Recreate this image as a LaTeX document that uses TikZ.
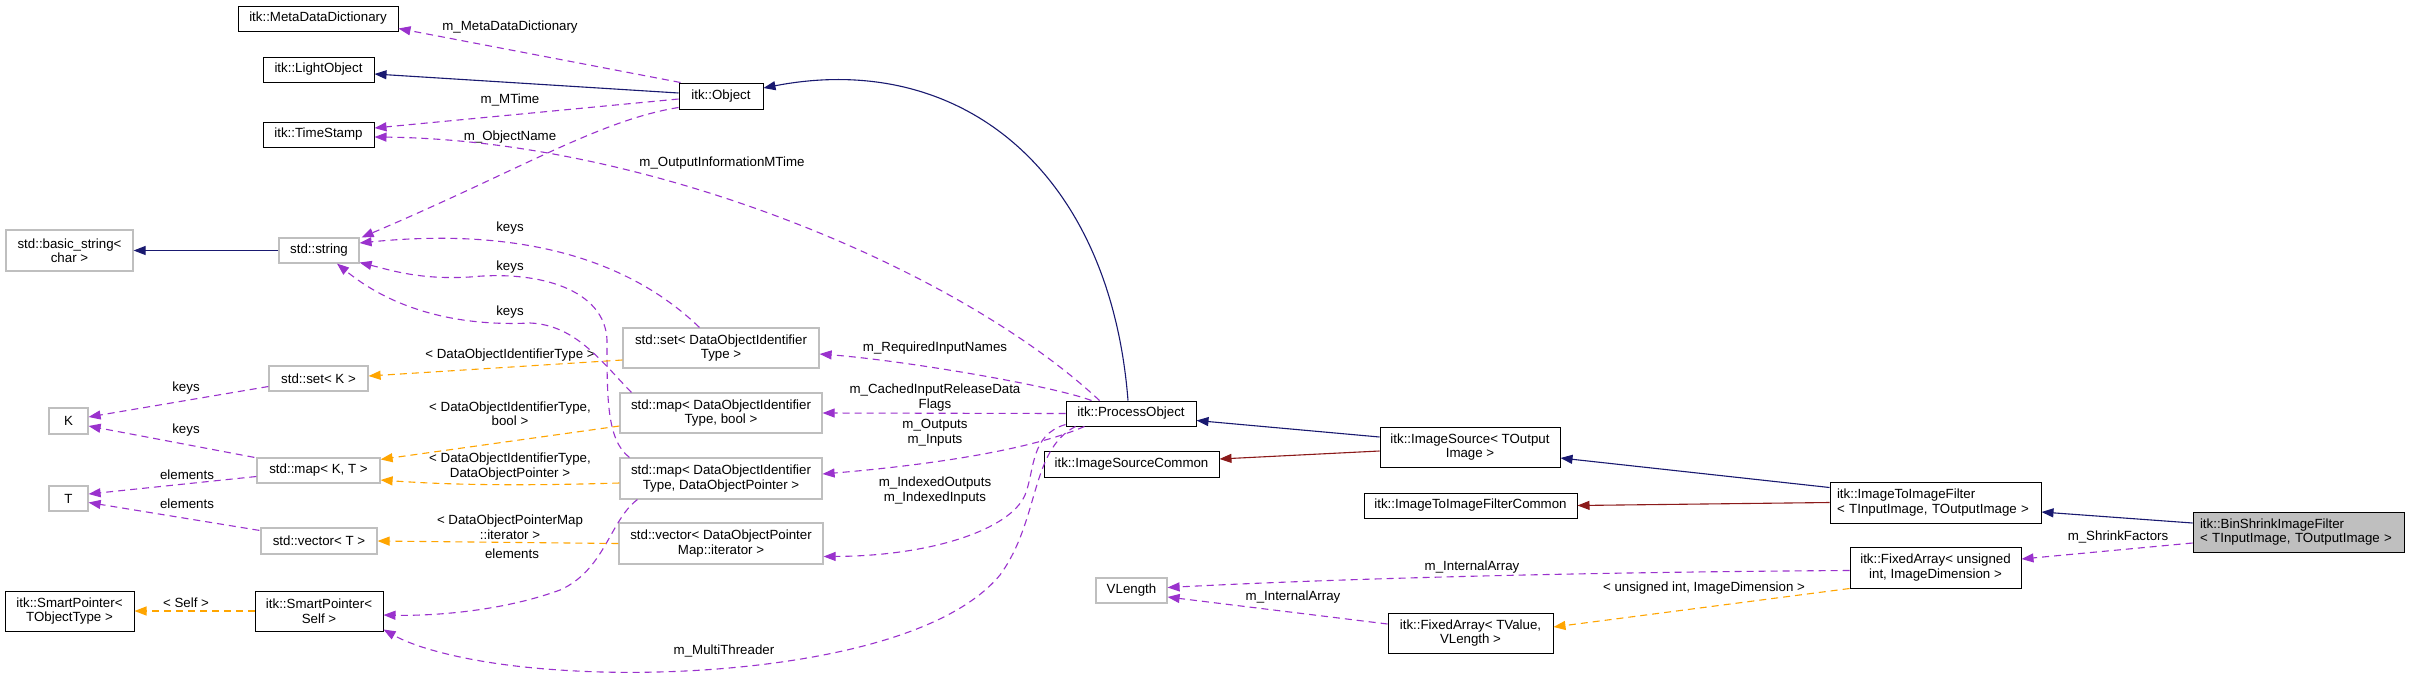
\documentclass[tikz,border=0pt]{standalone}
\usepackage{fontspec}
\setmainfont{Liberation Sans}
\usetikzlibrary{arrows.meta,calc}
\definecolor{navyc}{HTML}{191970}
\definecolor{redc}{HTML}{8B1A1A}
\definecolor{purpc}{HTML}{9A32CD}
\definecolor{orgc}{HTML}{FFA500}
\definecolor{greyc}{HTML}{BFBFBF}
\newcommand\dxfont{\fontsize{13.3pt}{14.5pt}\selectfont}
\tikzset{
  cls/.style={draw=black, line width=1pt, inner sep=0pt, align=center, font=\dxfont, fill=white},
  ucls/.style={cls, draw=greyc, line width=1.2pt},
  lbox/.style={cls, align=left, inner xsep=7pt, inner ysep=0pt},
  inh/.style={draw=navyc, line width=1.1pt, -{Triangle[length=12pt,width=9pt]}},
  prv/.style={draw=redc, line width=1.1pt, -{Triangle[length=12pt,width=9pt]}},
  usee/.style={draw=purpc, line width=1.1pt, dash pattern=on 7pt off 5pt, -{Triangle[length=12pt,width=9pt]}},
  tpl/.style={draw=orgc, line width=1.1pt, dash pattern=on 7pt off 5pt, -{Triangle[length=12pt,width=9pt]}},
  lbl/.style={font=\dxfont, align=center, inner sep=0pt},
}
\begin{document}
\begin{tikzpicture}[x=1pt,y=-1pt]
\fill[white] (0,0) rectangle (2409,678);
\useasboundingbox (0,0) rectangle (2409,678);

% ---- nodes ----
\node[cls, minimum width=160pt, minimum height=25pt] (mdd) at (318,18.5) {itk::MetaDataDictionary};
\node[cls, minimum width=111pt, minimum height=25pt] (lo) at (318.5,69.5) {itk::LightObject};
\node[cls, minimum width=111pt, minimum height=25pt] (ts) at (318.5,134.5) {itk::TimeStamp};
\node[cls, minimum width=84pt, minimum height=26pt] (obj) at (721,96) {itk::Object};
\node[ucls, minimum width=127pt, minimum height=41pt] (bs) at (69.5,250.5) {std::basic\_string<\\char >};
\node[ucls, minimum width=80pt, minimum height=25pt] (str) at (319,250.5) {std::string};
\node[ucls, minimum width=99pt, minimum height=25pt] (setk) at (318.5,378.5) {std::set< K >};
\node[ucls, minimum width=39pt, minimum height=26pt] (k) at (68.5,421) {K};
\node[ucls, minimum width=123pt, minimum height=25pt] (mapkt) at (318.5,470.5) {std::map< K, T >};
\node[ucls, minimum width=39pt, minimum height=25pt] (t) at (68.5,498.5) {T};
\node[ucls, minimum width=116pt, minimum height=26pt] (vect) at (319,541) {std::vector< T >};
\node[cls, minimum width=129pt, minimum height=40pt] (spt) at (69.5,611) {itk::SmartPointer<\\TObjectType >};
\node[cls, minimum width=128pt, minimum height=40pt] (sps) at (319,611) {itk::SmartPointer<\\Self >};
\node[ucls, minimum width=196pt, minimum height=40pt] (setd) at (721,348) {std::set< DataObjectIdentifier\\Type >};
\node[ucls, minimum width=202pt, minimum height=40pt] (mapb) at (721,413) {std::map< DataObjectIdentifier\\Type, bool >};
\node[ucls, minimum width=202pt, minimum height=41pt] (mapd) at (721,478.5) {std::map< DataObjectIdentifier\\Type, DataObjectPointer >};
\node[ucls, minimum width=204pt, minimum height=41pt] (vecd) at (721,543.5) {std::vector< DataObjectPointer\\Map::iterator >};
\node[cls, minimum width=130pt, minimum height=25pt] (po) at (1131,413.5) {itk::ProcessObject};
\node[cls, minimum width=175pt, minimum height=26pt] (isc) at (1131.5,464) {itk::ImageSourceCommon};
\node[cls, minimum width=180pt, minimum height=40pt] (is) at (1470,447) {itk::ImageSource< TOutput\\Image >};
\node[cls, minimum width=213pt, minimum height=25pt] (iifc) at (1470.5,505.5) {itk::ImageToImageFilterCommon};
\node[lbox, text width=197pt, minimum height=41pt] (iif) at (1935.5,502.5) {itk::ImageToImageFilter\\< TInputImage, TOutputImage >};
\node[lbox, fill=greyc, text width=197pt, minimum height=40pt] (bsf) at (2298.5,532) {itk::BinShrinkImageFilter\\< TInputImage, TOutputImage >};
\node[cls, minimum width=171pt, minimum height=41pt] (fau) at (1935.5,567.5) {itk::FixedArray< unsigned\\int, ImageDimension >};
\node[ucls, minimum width=71pt, minimum height=25pt] (vl) at (1131.5,590.5) {VLength};
\node[cls, minimum width=165pt, minimum height=40pt] (fat) at (1470.5,633) {itk::FixedArray< TValue,\\VLength >};

% ---- labels ----
\node[lbl] (l1) at (510,27) {m\_MetaDataDictionary};
\node[lbl] (l2) at (510,100) {m\_MTime};
\node[lbl] (l3) at (510,137) {m\_ObjectName};
\node[lbl] (l4) at (722,163) {m\_OutputInformationMTime};
\node[lbl] (l5) at (510,228) {keys};
\node[lbl] (l6) at (510,267) {keys};
\node[lbl] (l7) at (510,312) {keys};
\node[lbl] (l8) at (935,348) {m\_RequiredInputNames};
\node[lbl] (l9) at (935,397.5) {m\_CachedInputReleaseData\\Flags};
\node[lbl] (l10) at (935,432.5) {m\_Outputs\\m\_Inputs};
\node[lbl] (l11) at (935,490.5) {m\_IndexedOutputs\\m\_IndexedInputs};
\node[lbl] (l12) at (724,651) {m\_MultiThreader};
\node[lbl] (l13) at (512,554) {elements};
\node[lbl] (l14) at (510,355) {< DataObjectIdentifierType >};
\node[lbl] (l15) at (510,413.5) {< DataObjectIdentifierType,\\bool >};
\node[lbl] (l16) at (510,466.5) {< DataObjectIdentifierType,\\DataObjectPointer >};
\node[lbl] (l17) at (510,527) {< DataObjectPointerMap\\::iterator >};
\node[lbl] (l18) at (186,388) {keys};
\node[lbl] (l19) at (186,430) {keys};
\node[lbl] (l20) at (187,475) {elements};
\node[lbl] (l21) at (187,504) {elements};
\node[lbl] (l22) at (186,603) {< Self >};
\node[lbl] (l23) at (2118,537) {m\_ShrinkFactors};
\node[lbl] (l24) at (1472,567) {m\_InternalArray};
\node[lbl] (l25) at (1293,597) {m\_InternalArray};
\node[lbl] (l26) at (1704,588) {< unsigned int, ImageDimension >};

% ---- edges ----
\draw[usee] ($(obj.north west)+(2,0)$) -- ($(mdd.south east)+(0,-3)$);
\draw[inh] ($(obj.west)+(0,-3)$) -- ($(lo.east)+(0,4.5)$);
\draw[usee] ($(obj.west)+(0,3)$) -- ($(ts.east)+(0,-6.5)$);
\draw[usee] ($(obj.south west)+(0,-2)$) .. controls (600,120) and (520,170) .. ($(str.north east)+(2,0)$);
\draw[inh] ($(po.north)+(-3,0)$) .. controls (1110,170) and (960,50) .. ($(obj.east)+(0,-8)$);
\draw[usee] ($(po.north west)+(34,0)$) .. controls (960,270) and (650,140) .. ($(ts.east)+(0,2.5)$);
\draw[usee] ($(po.north west)+(26,0)$) .. controls (1050,385) and (900,360) .. ($(setd.east)+(0,6)$);
\draw[usee] (po.west) -- (mapb.east);
\draw[usee] ($(po.south west)+(19,0)$) .. controls (1030,450) and (930,465) .. ($(mapd.east)+(0,-4.5)$);
\draw[usee] ($(po.south west)+(0,-2)$) .. controls (1030,435) and (1035,470) .. (1025,495) .. controls (1010,530) and (930,556) .. ($(vecd.east)+(0,13)$);
\draw[usee] ($(po.south west)+(10,0)$) .. controls (1030,450) and (1040,520) .. (1000,575) .. controls (930,660) and (700,680) .. (560,670) .. controls (480,665) and (420,650) .. ($(sps.south east)+(0,-2)$);
\draw[usee] ($(mapd.south west)+(18,0)$) .. controls (610,520) and (605,570) .. (560,590) .. controls (500,612) and (430,616) .. ($(sps.east)+(0,4)$);
\draw[usee] ($(setd.north west)+(77,0)$) .. controls (640,270) and (540,225) .. ($(str.east)+(0,-7.5)$);
\draw[usee] ($(mapd.north west)+(10,0)$) .. controls (607,440) and (607,400) .. (607,340) .. controls (605,290) and (540,270) .. (470,277) .. controls (420,280) and (390,270) .. ($(str.east)+(0,12)$);
\draw[usee] ($(mapb.north west)+(12,0)$) .. controls (600,360) and (575,325) .. (530,323) .. controls (470,326) and (400,315) .. ($(str.south)+(18,0)$);
\draw[tpl] ($(setd.west)+(0,12)$) -- ($(setk.east)+(0,-2.5)$);
\draw[tpl] ($(mapb.west)+(0,13)$) -- ($(mapkt.north east)+(0,2)$);
\draw[tpl] ($(mapd.west)+(0,4.5)$) .. controls (520,486) and (450,485) .. ($(mapkt.east)+(0,9.5)$);
\draw[tpl] (vecd.west) -- (vect.east);
\draw[usee] ($(setk.west)+(0,8)$) -- ($(k.east)+(0,-4)$);
\draw[usee] ($(mapkt.north west)+(-2,0)$) -- ($(k.east)+(0,5)$);
\draw[usee] ($(mapkt.west)+(0,6)$) -- ($(t.east)+(0,-4.5)$);
\draw[usee] ($(vect.north west)+(-1,3)$) -- ($(t.east)+(0,4)$);
\draw[inh] (str.west) -- (bs.east);
\draw[tpl] (sps.west) -- (spt.east);
\draw[inh] ($(is.west)+(0,-10)$) -- ($(po.east)+(0,7)$);
\draw[prv] ($(is.west)+(0,4)$) -- ($(isc.east)+(0,-5)$);
\draw[inh] ($(iif.north west)+(0,6)$) -- ($(is.east)+(0,11)$);
\draw[prv] (iif.west) -- (iifc.east);
\draw[inh] ($(bsf.west)+(0,-9)$) -- ($(iif.east)+(0,9.5)$);
\draw[usee] ($(bsf.west)+(0,11)$) -- ($(fau.east)+(0,-8.5)$);
\draw[usee] ($(fau.west)+(0,3)$) .. controls (1600,572) and (1350,578) .. ($(vl.east)+(0,-3)$);
\draw[tpl] (fau.south west) -- ($(fat.east)+(0,-6)$);
\draw[usee] ($(fat.west)+(0,-9)$) -- ($(vl.east)+(0,6.5)$);
\end{tikzpicture}
\end{document}
